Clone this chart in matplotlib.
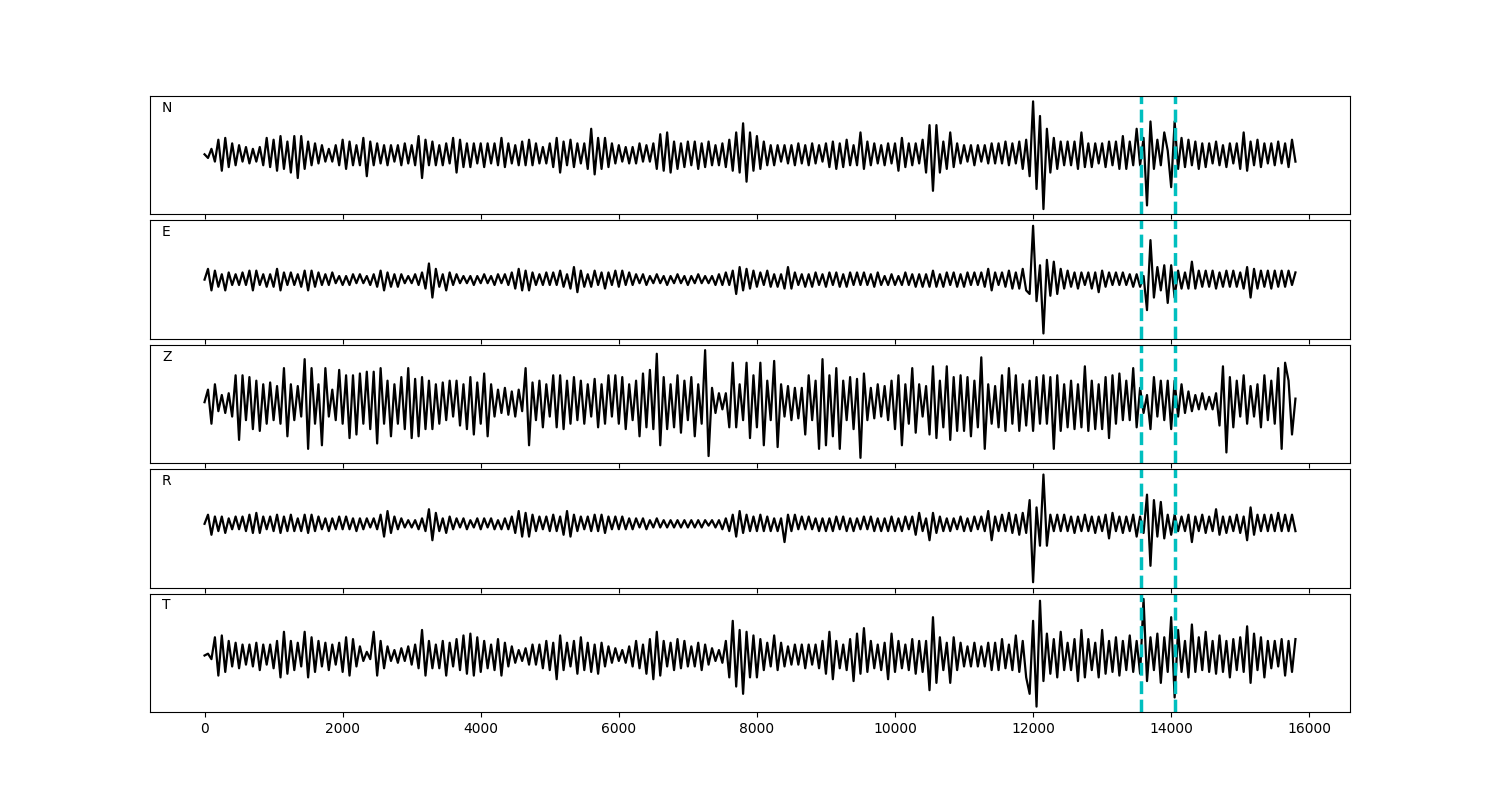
import numpy as np
import matplotlib
matplotlib.use("Agg")
import matplotlib.pyplot as plt

# ---- data (peak amplitudes, one value every 50 samples) ----
sample_interval = 50
pick_times = [13570, 14060]
components = ["N", "E", "Z", "R", "T"]

trace_N = [
    0, -2, 3, -4, 8, -9, 9, -7, 6, -6,
    5, -4, 4, -5, 3, -4, 4, -6, 9, -7,
    8, -9, 10, -8, 7, -10, 10, -13, 10, -8,
    7, -6, 6, -5, 5, -4, 3, -4, 5, -6,
    8, -8, 7, -6, 5, -6, 9, -12, 7, -6,
    6, -5, 5, -6, 5, -4, 5, -6, 6, -5,
    5, -6, 10, -13, 8, -6, 7, -6, 5, -6,
    6, -5, 9, -10, 8, -7, 6, -7, 6, -5,
    6, -7, 6, -5, 6, -6, 9, -7, 6, -5,
    5, -6, 7, -6, 8, -6, 6, -5, 4, -5,
    6, -7, 9, -10, 7, -6, 8, -7, 6, -5,
    6, -8, 14, -11, 9, -8, 9, -7, 6, -5,
    5, -4, 4, -5, 4, -5, 6, -4, 5, -4,
    6, -8, 11, -9, 12, -10, 7, -8, 6, -7,
    7, -6, 7, -8, 6, -7, 7, -6, 5, -6,
    6, -7, 8, -9, 12, -10, 17, -15, 12, -9,
    10, -8, 7, -6, 5, -6, 5, -4, 5, -5,
    5, -6, 6, -5, 5, -6, 6, -5, 5, -4,
    6, -7, 7, -8, 6, -7, 8, -6, 5, -6,
    12, -8, 7, -6, 6, -5, 5, -6, 6, -5,
    6, -9, 9, -7, 6, -6, 6, -5, 8, -10,
    16, -20, 16, -10, 7, -8, 12, -7, 6, -5,
    5, -4, 5, -6, 5, -4, 5, -5, 6, -5,
    6, -5, 7, -6, 6, -5, 7, -8, 8, -12,
    29, -19, 21, -30, 14, -10, 9, -8, 7, -6,
    7, -6, 7, -8, 12, -7, 6, -7, 6, -5,
    6, -7, 7, -6, 7, -8, 10, -8, 7, -6,
    14, -6, 9, -28, 18, -8, 8, -6, 12, 2,
    -18, 18, -8, 9, -7, 8, -6, 7, -8, 6,
    -7, 6, -5, 7, -6, 5, -7, 6, -5, 6,
    -8, 12, -9, 7, -6, 8, -7, 6, -5, 6,
    -6, 7, -5, 6, -7, 8, -4,
]

trace_E = [
    0, 6, -6, 5, -4, 3, -6, 4, -3, 3,
    -3, 4, -3, 5, -6, 5, -3, 3, -4, 3,
    -4, 6, -6, 4, -3, 4, -3, 3, -4, 5,
    -6, 5, -4, 4, -3, 3, -3, 4, -2, 2,
    -3, 2, -3, 3, -2, 3, -2, 2, -3, 3,
    -4, 5, -6, 4, -4, 3, -4, 3, -2, 2,
    -2, 3, -3, 4, -5, 9, -10, 6, -4, 3,
    -6, 4, -3, 3, -2, 2, -2, 2, -3, 2,
    -2, 3, -2, 2, -3, 3, -2, 3, -3, 4,
    -5, 6, -6, 5, -6, 4, -3, 3, -3, 4,
    -3, 4, -3, 5, -4, 3, -5, 7, -7, 5,
    -4, 3, -4, 5, -3, 4, -5, 4, -3, 5,
    -4, 5, -3, 4, -3, 3, -2, 3, -3, 2,
    -2, 3, -2, 2, -3, 2, -2, 3, -2, 2,
    -3, 2, -2, 3, -2, 2, -2, 2, -3, 3,
    -3, 4, -3, 5, -8, 7, -6, 6, -5, 5,
    -4, 4, -3, 5, -4, 3, -4, 3, -5, 7,
    -5, 4, -3, 3, -4, 3, -4, 4, -3, 3,
    -4, 4, -3, 4, -4, 3, -4, 4, -3, 4,
    -3, 4, -3, 3, -4, 4, -3, 2, -3, 3,
    -3, 2, -3, 4, -3, 3, -4, 3, -4, 3,
    -4, 5, -4, 3, -4, 4, -3, 4, -4, 3,
    -4, 4, -3, 4, -3, 4, -4, 6, -6, 4,
    -3, 4, -4, 5, -5, 4, -5, 6, -6, -8,
    30, -12, 8, -30, 11, -9, 10, -8, 6, -5,
    5, -4, 4, -5, 4, -3, 4, -5, 4, -7,
    5, -4, 4, -3, 4, -3, 4, -3, 3, -4,
    3, -4, 2, -17, 22, -10, 7, -6, 8, -13,
    8, -10, 5, -5, 4, -5, 10, -5, 5, -4,
    5, -4, 5, -5, 4, -4, 5, -4, 5, -4,
    4, -5, 7, -10, 6, -5, 5, -4, 5, -5,
    5, -4, 5, -4, 5, -3, 4,
]

trace_Z = [
    0, 7, -12, 10, -5, 4, -6, 5, -8, 15,
    -21, 15, -10, 14, -15, 12, -16, 10, -12, 11,
    -10, 9, -12, 19, -19, 10, -10, 9, -8, 24,
    -26, 19, -12, 10, -24, 19, -8, 7, -10, 18,
    -12, 15, -20, 15, -18, 16, -12, 17, -15, 17,
    -23, 19, -12, 12, -19, 10, -12, 14, -15, 19,
    -20, 13, -19, 14, -15, 12, -15, 10, -12, 11,
    -10, 12, -8, 12, -13, 10, -15, 14, -18, 11,
    -12, 16, -19, 10, -8, 7, -6, 8, -7, 6,
    -8, 7, -5, 19, -24, 11, -10, 12, -14, 10,
    -8, 15, -14, 15, -15, 12, -12, 14, -10, 12,
    -12, 10, -8, 13, -14, 10, -12, 15, -8, 15,
    -12, 14, -15, 10, -10, 12, -19, 16, -14, 18,
    -15, 27, -24, 14, -15, 10, -14, 15, -17, 12,
    -10, 14, -19, 10, -12, 29, -30, 8, -6, 5,
    -4, 5, -14, 22, -14, 10, -10, 22, -20, 15,
    -14, 22, -24, 12, -10, 23, -25, 10, -8, 9,
    -10, 8, -9, 8, -18, 15, -10, 12, -26, 24,
    -24, 15, -19, 19, -26, 12, -10, 14, -15, 13,
    -31, 16, -10, 8, -9, 10, -8, 9, -10, 12,
    -15, 15, -24, 10, -12, 19, -17, 10, -8, 9,
    -18, 20, -20, 12, -14, 20, -21, 14, -16, 15,
    -16, 14, -19, 12, -14, 25, -26, 10, -12, 9,
    -14, 15, -16, 19, -12, 15, -16, 10, -13, 12,
    -16, 14, -12, 15, -12, 14, -26, 15, -16, 10,
    -14, 12, -15, 10, -14, 20, -16, 12, -15, 10,
    -15, 14, -20, 15, -12, 16, -10, 12, -10, 19,
    -14, 8, -6, 4, -15, 14, -8, 12, -10, 12,
    -15, 12, -8, 10, -6, 6, -5, 4, -4, 5,
    -4, 3, -4, 5, -13, 20, -28, 14, -14, 12,
    -8, 15, -12, 9, -8, 10, -14, 15, -10, 12,
    -12, 19, -26, 22, 12, -18, 2,
]

trace_R = [
    0, 5, -6, 4, -4, 4, -5, 3, -3, 4,
    -3, 4, -4, 5, -5, 6, -5, 4, -3, 4,
    -4, 5, -5, 4, -4, 5, -4, 3, -4, 5,
    -5, 5, -4, 4, -3, 3, -4, 3, -3, 4,
    -3, 4, -3, 3, -4, 3, -3, 3, -2, 3,
    -3, 5, -7, 7, -5, 4, -3, 3, -2, 2,
    -2, 2, -3, 3, -4, 8, -9, 6, -4, 3,
    -5, 4, -3, 3, -2, 3, -3, 2, -2, 3,
    -3, 3, -2, 3, -3, 2, -3, 3, -3, 4,
    -5, 7, -7, 6, -7, 5, -4, 4, -3, 4,
    -4, 5, -4, 4, -6, 7, -7, 5, -4, 4,
    -3, 4, -4, 5, -4, 5, -5, 4, -3, 4,
    -3, 4, -3, 3, -3, 3, -2, 3, -3, 2,
    -2, 3, -2, 2, -2, 2, -2, 2, -2, 2,
    -2, 2, -2, 2, -2, 2, -1, 2, -2, 2,
    -3, 3, -4, 5, -7, 7, -5, 5, -4, 4,
    -4, 5, -4, 4, -4, 3, -4, 3, -10, 5,
    -4, 5, -3, 4, -3, 4, -3, 3, -4, 3,
    -4, 3, -4, 4, -3, 4, -4, 3, -4, 3,
    -3, 4, -3, 4, -4, 3, -4, 3, -4, 4,
    -4, 3, -4, 4, -3, 4, -6, 6, -4, 3,
    -9, 6, -5, 4, -4, 3, -4, 3, -3, 4,
    -4, 3, -4, 4, -3, 4, -4, 7, -9, 4,
    -4, 5, -4, 6, -5, 5, -6, 6, -5, 13,
    -32, 9, -12, 27, -12, 5, -4, 5, -4, 5,
    -4, 4, -5, 4, -4, 5, -4, 4, -5, 4,
    -4, 5, -8, 6, -4, 4, -5, 4, -4, 5,
    -7, 4, -5, 16, -23, 13, -7, 12, -8, 5,
    -6, 5, -4, 4, -4, 5, -10, 4, -4, 5,
    -5, 4, -4, 8, -6, 4, -5, 4, -4, 5,
    -5, 4, -9, 9, -6, 5, -4, 5, -4, 5,
    -4, 6, -4, 5, -4, 5, -4,
]

trace_T = [
    0, 1, -2, 10, -11, 11, -9, 8, -6, 7,
    -7, 6, -5, 6, -6, 7, -8, 6, -5, 6,
    -7, 8, -12, 13, -10, 8, -8, 7, -6, 13,
    -12, 10, -9, 8, -6, 7, -8, 6, -5, 7,
    -9, 10, -11, 9, -6, 5, -3, 2, -2, 13,
    -11, 8, -7, 5, -3, 3, -4, 4, -3, 5,
    -5, 6, -7, 14, -11, 8, -7, 6, -7, 8,
    -11, 7, -6, 9, -8, 11, -10, 12, -11, 10,
    -9, 8, -7, 6, -8, 9, -11, 7, -6, 5,
    -4, 3, -3, 4, -5, 6, -5, 6, -7, 8,
    -8, 7, -13, 11, -8, 7, -6, 8, -10, 10,
    -8, 7, -9, 6, -10, 7, -6, 5, -4, 4,
    -3, 3, -4, 5, -6, 8, -7, 6, -10, 9,
    -13, 13, -11, 8, -6, 7, -8, 9, -7, 8,
    -6, 5, -6, 7, -8, 6, -5, 4, -3, 3,
    -4, 8, -12, 19, -17, 14, -21, 13, -12, 11,
    -12, 9, -8, 7, -6, 11, -8, 7, -6, 5,
    -5, 6, -5, 6, -7, 6, -5, 6, -7, 8,
    -10, 13, -13, 8, -7, 6, -8, 9, -14, 12,
    -10, 15, -9, 8, -7, 6, -8, 7, -13, 12,
    -9, 8, -7, 6, -8, 9, -10, 8, -9, 8,
    -19, 21, -15, 10, -8, 7, -15, 10, -8, 7,
    -6, 5, -6, 7, -6, 5, -6, 7, -8, 7,
    -8, 9, -7, 6, -8, 11, -9, 8, -12, -21,
    19, -28, 30, -14, 12, -10, 9, -12, 13, -8,
    7, -8, 9, -14, 14, -12, 9, -8, 7, -12,
    14, -10, 8, -9, 10, -11, 8, -8, 11, -9,
    8, -10, 31, -14, 10, -8, 12, -15, 10, -9,
    21, -23, 14, -9, 8, -12, 17, -9, 10, -8,
    13, -9, 8, -10, 11, -9, 8, -12, 9, -8,
    10, -9, 16, -15, 12, -8, 10, -12, 8, -7,
    8, -6, 9, -11, 8, -9, 9,
]

traces = [trace_N, trace_E, trace_Z, trace_R, trace_T]

# ---- figure ----
fig, axes = plt.subplots(5, 1, sharex=True, figsize=(15, 8), dpi=100)
fig.subplots_adjust(left=0.1, right=0.9, top=0.88, bottom=0.11, hspace=0.05)

for ax, name, tr in zip(axes, components, traces):
    y = np.asarray(tr, dtype=float)
    t = np.arange(len(y)) * sample_interval
    ax.plot(t, y, color="black", linewidth=1.6)
    for pt in pick_times:
        ax.axvline(pt, color="c", linestyle="--", linewidth=2.5)
    ax.set_yticks([])
    ax.text(0.01, 0.9, name, transform=ax.transAxes, fontsize=10,
            ha="left", va="center")

axes[-1].set_xticks(np.arange(0, 16001, 2000))
fig.savefig("out.png", dpi=100)
